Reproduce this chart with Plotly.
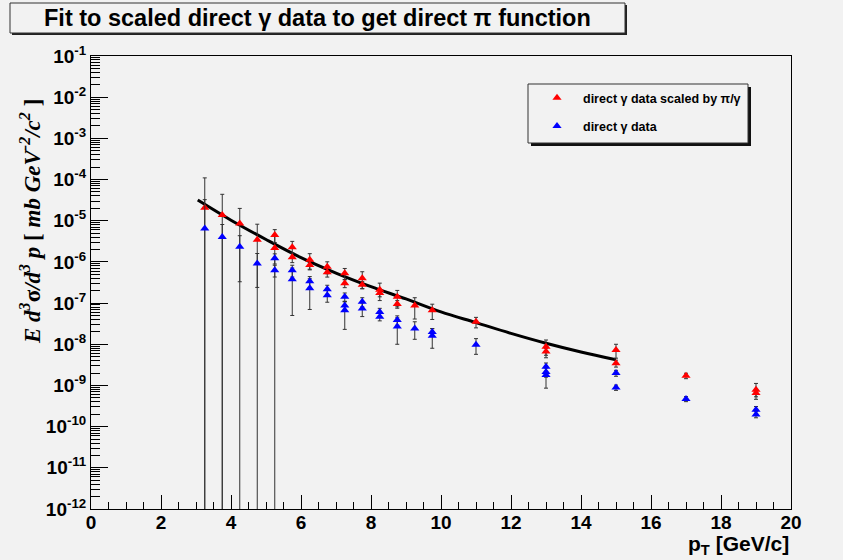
import plotly.graph_objects as go

# ---------------- data ----------------
red_x = [3.25, 3.75, 4.25, 4.75, 5.25, 5.25, 5.75, 5.75, 6.25, 6.25, 6.75, 6.75,
         7.25, 7.25, 7.75, 7.75, 8.25, 8.25, 8.75, 8.75, 9.25, 9.75, 11, 13, 13,
         15, 15, 17, 19, 19]
red_y = [2.07e-5, 1.38e-5, 8.6e-6, 3.43e-6, 4.52e-6, 2.19e-6, 2.26e-6, 1.30e-6, 1.125e-6, 8.4e-7,
         7.6e-7, 5.64e-7, 5.3e-7, 3.05e-7, 4.0e-7, 2.78e-7, 2.1e-7, 1.76e-7, 1.42e-7, 9.5e-8,
         8.8e-8, 6.7e-8, 3.5e-8, 8.7e-9, 6.7e-9, 7.3e-9, 3.45e-9, 1.72e-9, 7.9e-10, 6.6e-10]
red_err = [8.9e-5, 3.0e-5, 1.13e-5, 4.8e-6, 1.56e-6, 2.38e-6, 8.9e-7, 3.4e-7, 4.6e-7, 2.0e-7,
           2.45e-7, 1.36e-7, 1.63e-7, 6.8e-8, 1.77e-7, 5.4e-8, 9.5e-8, 3.4e-8, 6.1e-8, 2.0e-8,
           4.7e-8, 2.7e-8, 1.0e-8, 4.0e-9, 1.3e-9, 2.7e-9, 6.6e-10, 2.6e-10, 3.3e-10, 1.3e-10]

blue_x = [3.25, 3.75, 4.25, 4.75, 5.25, 5.25, 5.75, 5.75, 6.25, 6.25, 6.75, 6.75,
          7.25, 7.25, 7.25, 7.75, 7.75, 8.25, 8.25, 8.75, 8.75, 9.25, 9.75, 9.75, 11,
          13, 13, 13, 15, 15, 17, 19, 19]
blue_y = [6.5e-6, 4.0e-6, 2.33e-6, 9.2e-7, 1.23e-6, 6.3e-7, 6.3e-7, 3.8e-7, 3.4e-7, 2.3e-7,
          2.17e-7, 1.56e-7, 1.42e-7, 8.8e-8, 6.7e-8, 1.08e-7, 7.4e-8, 6.1e-8, 4.65e-8, 3.9e-8,
          2.7e-8, 2.42e-8, 2.0e-8, 1.6e-8, 9.7e-9, 2.85e-9, 2.12e-9, 1.79e-9, 2.0e-9, 8.9e-10,
          4.7e-10, 2.56e-10, 1.97e-10]
blue_err = [2.6e-5, 4.1e-6, 2.0e-6, 6.8e-7, 3.4e-7, 2.0e-7, 2.0e-7, 3.3e-7, 1.0e-7, 1.6e-7,
            5.4e-8, 5.1e-8, 3.4e-8, 2.0e-8, 4.4e-8, 2.7e-8, 2.7e-8, 1.36e-8, 9.5e-9, 1.0e-8,
            1.7e-8, 1.1e-8, 4.0e-9, 8.0e-9, 4.0e-9, 6.6e-10, 5.3e-10, 9.3e-10, 3.3e-10, 1.3e-10,
            6.6e-11, 5.2e-11, 3.3e-11]

fit_x = [3.05, 4, 5, 6, 7, 8, 9, 10, 11, 12, 13, 14, 15]
fit_y = [3.17e-5, 1.03e-5, 3.5e-6, 1.27e-6, 5.36e-7, 2.5e-7, 1.26e-7, 6.1e-8,
         3.36e-8, 1.84e-8, 1.06e-8, 6.5e-9, 4.2e-9]

y_tick_vals = [1e-12, 1e-11, 1e-10, 1e-9, 1e-8, 1e-7, 1e-6, 1e-5, 1e-4, 1e-3, 1e-2, 1e-1]
y_tick_text = ["10<sup>-12</sup>", "10<sup>-11</sup>", "10<sup>-10</sup>", "10<sup>-9</sup>",
               "10<sup>-8</sup>", "10<sup>-7</sup>", "10<sup>-6</sup>", "10<sup>-5</sup>",
               "10<sup>-4</sup>", "10<sup>-3</sup>", "10<sup>-2</sup>", "10<sup>-1</sup>"]

title_text = "Fit to scaled direct γ data to get direct π function"
legend_red = "direct γ data scaled by π/γ"
legend_blue = "direct γ data"

# ---------------- figure ----------------
BG = "#f2f2f2"
SANS = "Liberation Sans, Arial, Helvetica, sans-serif"
fig = go.Figure()

fig.add_trace(go.Scatter(
    x=fit_x, y=fit_y, mode="lines", line=dict(color="black", width=3, shape="spline"),
    showlegend=False, hoverinfo="skip"))

fig.add_trace(go.Scatter(
    x=red_x, y=red_y, mode="markers", name=legend_red, legendgroup="a",
    marker=dict(symbol="triangle-up", size=8, color="#ff0000"),
    error_y=dict(type="data", array=red_err, color="#333333", thickness=1, width=2)))

fig.add_trace(go.Scatter(
    x=blue_x, y=blue_y, mode="markers", name=legend_blue, legendgroup="b",
    marker=dict(symbol="triangle-up", size=8, color="#0000ff"),
    error_y=dict(type="data", array=blue_err, color="#333333", thickness=1, width=2)))

L, R, T, B = 91, 52, 56, 51
W, H = 843, 560
pw, ph = W - L - R, H - T - B

def px(x):
    return (x - L) / pw

def py(y):
    return (H - B - y) / ph

shapes = []
# title box + shadow
shapes.append(dict(type="rect", xref="paper", yref="paper", x0=px(12), x1=px(627), y0=py(35), y1=py(5),
                   fillcolor="#222222", line=dict(width=0), layer="below"))
shapes.append(dict(type="rect", xref="paper", yref="paper", x0=px(10), x1=px(625), y0=py(33), y1=py(3),
                   fillcolor=BG, line=dict(color="#333333", width=1), layer="below"))
# legend box + shadow
shapes.append(dict(type="rect", xref="paper", yref="paper", x0=px(531), x1=px(751), y0=py(146), y1=py(87),
                   fillcolor="#111111", line=dict(width=0), layer="above"))
shapes.append(dict(type="rect", xref="paper", yref="paper", x0=px(528), x1=px(748), y0=py(143), y1=py(84),
                   fillcolor=BG, line=dict(color="#333333", width=1), layer="above"))

fig.update_layout(
    width=W, height=H,
    margin=dict(l=L, r=R, t=T, b=B),
    paper_bgcolor=BG, plot_bgcolor=BG,
    font=dict(family=SANS, color="black"),
    shapes=shapes,
    showlegend=True,
    legend=dict(x=px(531), y=py(83), xanchor="left", yanchor="top",
                bgcolor="rgba(0,0,0,0)", borderwidth=0, itemwidth=42,
                font=dict(family=SANS, size=12.5, weight="bold"),
                tracegroupgap=9, traceorder="grouped"),
    xaxis=dict(range=[0, 20], showgrid=False, zeroline=False,
               showline=True, linecolor="black", linewidth=1, mirror=True,
               ticks="inside", ticklen=14, tickcolor="black", dtick=2, tick0=0,
               ticklabelstandoff=-4,
               minor=dict(ticks="inside", ticklen=7, dtick=0.5, tickcolor="black"),
               tickfont=dict(family=SANS, size=19, weight="bold")),
    yaxis=dict(type="log", range=[-12, -1], showgrid=False, zeroline=False,
               showline=True, linecolor="black", linewidth=1, mirror=True,
               ticks="inside", ticklen=17, tickcolor="black",
               tickmode="array", tickvals=y_tick_vals, ticktext=y_tick_text,
               minor=dict(ticks="inside", ticklen=9, dtick="D1", tickcolor="black"),
               tickfont=dict(family=SANS, size=19, weight="bold")),
    annotations=[
        dict(text=title_text, xref="paper", yref="paper", x=px(317), y=py(18),
             xanchor="center", yanchor="middle", showarrow=False,
             font=dict(family=SANS, size=23.5, weight="bold")),
        dict(text="<i>E d<sup>3</sup></i>σ<i>/d<sup>3</sup> p</i> [ <i>mb GeV<sup>-2</sup>/c<sup>2</sup></i> ]",
             xref="paper", yref="paper", x=px(30), y=py(222), textangle=-90,
             xanchor="center", yanchor="middle", showarrow=False,
             font=dict(family="Liberation Serif, Times New Roman, serif", size=23, weight="bold")),
        dict(text="p<sub>T</sub> [GeV/c]", xref="paper", yref="paper", x=1.0, y=py(545),
             xanchor="right", yanchor="middle", showarrow=False,
             font=dict(family=SANS, size=21, weight="bold")),
    ],
)

fig.write_html("out.html", config={"displayModeBar": False},
               post_script="document.body.style.margin='0';document.body.style.padding='0';")
